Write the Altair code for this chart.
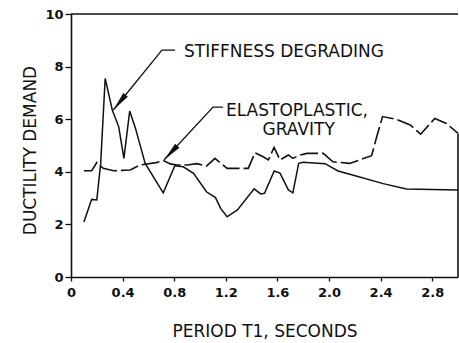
import altair as alt
import pandas as pd

# Stiffness degrading (solid)
sd_x = [0.10, 0.16, 0.20, 0.23, 0.265, 0.32, 0.37, 0.41, 0.455, 0.50, 0.575, 0.715, 0.805, 0.87,
        0.95, 1.05, 1.12, 1.16, 1.21, 1.29, 1.42, 1.47, 1.50, 1.575, 1.62, 1.685, 1.72, 1.765, 1.80,
        1.97, 2.07, 2.21, 2.42, 2.60, 3.0]
sd_y = [2.09, 2.95, 2.93, 4.32, 7.55, 6.35, 5.71, 4.51, 6.31, 5.65, 4.32, 3.20, 4.23, 4.19,
        3.94, 3.24, 3.02, 2.61, 2.29, 2.55, 3.35, 3.16, 3.18, 4.03, 3.95, 3.31, 3.20, 4.32, 4.36,
        4.31, 4.03, 3.84, 3.55, 3.35, 3.31]

# Elastoplastic, gravity (dashed)
ep_x = [0.10, 0.16, 0.20, 0.25, 0.33, 0.46, 0.535, 0.66, 0.72, 0.77, 0.82, 0.90, 0.975, 1.05,
        1.116, 1.21, 1.374, 1.426, 1.49, 1.53, 1.574, 1.62, 1.685, 1.72, 1.775, 1.83, 1.956, 2.03,
        2.16, 2.33, 2.37, 2.415, 2.52, 2.63, 2.71, 2.82, 2.91, 3.0]
ep_y = [4.04, 4.04, 4.35, 4.13, 4.04, 4.07, 4.26, 4.35, 4.42, 4.30, 4.26, 4.26, 4.31, 4.22,
        4.51, 4.13, 4.13, 4.72, 4.57, 4.45, 4.93, 4.45, 4.64, 4.51, 4.64, 4.70, 4.70, 4.38,
        4.32, 4.61, 5.33, 6.10, 6.00, 5.78, 5.43, 6.03, 5.84, 5.46]

# Annotations (data units)
labels = ["STIFFNESS DEGRADING", "ELASTOPLASTIC,", "GRAVITY"]
label_x = [1.651, 1.752, 1.765]
label_y = [8.365, 6.12, 5.40]

arrow_id = ["a1", "a1", "a1", "a2", "a2", "a2"]
arrow_x = [0.806, 0.705, 0.328, 1.178, 1.101, 0.721]
arrow_y = [8.63, 8.63, 6.35, 6.46, 6.46, 4.45]
arrow_ord = [0, 1, 2, 0, 1, 2]
head_x = [0.328, 0.721]
head_y = [6.35, 4.45]
head_angle = [219, 223]

x_ticks = [round(i * 0.2, 1) for i in range(16)]
y_ticks = list(range(11))

FONT = "DejaVu Sans"
INK = "#111111"

sd = pd.DataFrame({"x": sd_x, "y": sd_y})
ep = pd.DataFrame({"x": ep_x, "y": ep_y})
lab = pd.DataFrame({"x": label_x, "y": label_y, "t": labels})
arr = pd.DataFrame({"x": arrow_x, "y": arrow_y, "id": arrow_id, "o": arrow_ord})
heads = pd.DataFrame({"x": head_x, "y": head_y, "a": head_angle})
frame_top = pd.DataFrame({"x": [0.0], "x2": [3.0], "y": [10.0]})
frame_right = pd.DataFrame({"x": [3.0], "y": [0.0], "y2": [5.45]})

xs = alt.Scale(domain=[0, 3], nice=False, zero=False)
ys = alt.Scale(domain=[0, 10], nice=False)

xaxis = alt.Axis(
    values=x_ticks,
    labelExpr="round(datum.value*10) % 4 == 0 ? (datum.value == 0 ? '0' : format(datum.value, '.1f')) : ''",
    title="PERIOD T1, SECONDS",
    grid=False, domainColor=INK, domainWidth=1.6, tickColor=INK, tickWidth=1.3, tickSize=4,
    labelFont=FONT, labelFontSize=13, labelFontWeight="bold", labelColor=INK, labelPadding=5,
    labelFlush=False, labelOverlap=False,
    titleFont=FONT, titleFontSize=17, titleFontWeight="normal", titleColor=INK,
    titleBaseline="alphabetic", titleY=59,
)
yaxis = alt.Axis(
    values=y_ticks,
    labelExpr="datum.value % 2 == 0 ? datum.label : ''",
    title="DUCTILITY DEMAND",
    grid=False, domainColor=INK, domainWidth=1.6, tickColor=INK, tickWidth=1.3, tickSize=6,
    labelFont=FONT, labelFontSize=13, labelFontWeight="bold", labelColor=INK, labelPadding=2,
    labelFlush=False, labelOverlap=False,
    titleFont=FONT, titleFontSize=17, titleFontWeight="normal", titleColor=INK,
    titleAngle=270, titleAlign="center", titleBaseline="alphabetic", titleX=-36, titleY=136,
)

line_sd = alt.Chart(sd).mark_line(color=INK, strokeWidth=1.5).encode(
    x=alt.X("x:Q", scale=xs, axis=xaxis),
    y=alt.Y("y:Q", scale=ys, axis=yaxis),
)
line_ep = alt.Chart(ep).mark_line(color=INK, strokeWidth=1.6, strokeDash=[18, 4]).encode(
    x=alt.X("x:Q", scale=xs), y=alt.Y("y:Q", scale=ys)
)
top = alt.Chart(frame_top).mark_rule(color=INK, strokeWidth=1.6).encode(
    x=alt.X("x:Q", scale=xs), x2="x2:Q", y=alt.Y("y:Q", scale=ys)
)
right = alt.Chart(frame_right).mark_rule(color=INK, strokeWidth=1.6).encode(
    x=alt.X("x:Q", scale=xs), y=alt.Y("y:Q", scale=ys), y2="y2:Q"
)
leaders = alt.Chart(arr).mark_line(color=INK, strokeWidth=1.3).encode(
    x=alt.X("x:Q", scale=xs), y=alt.Y("y:Q", scale=ys), detail="id:N", order="o:Q"
)
arrowheads = alt.Chart(heads).mark_point(
    shape="M0,0L0.3,2L-0.3,2Z", filled=True, color=INK, opacity=1, size=380
).encode(
    x=alt.X("x:Q", scale=xs), y=alt.Y("y:Q", scale=ys), angle=alt.Angle("a:Q", scale=None)
)
texts = alt.Chart(lab).mark_text(
    font=FONT, fontSize=17, color=INK, align="center", baseline="alphabetic"
).encode(
    x=alt.X("x:Q", scale=xs), y=alt.Y("y:Q", scale=ys), text="t:N"
)

chart = alt.layer(line_sd, line_ep, top, right, leaders, arrowheads, texts).properties(
    width=387, height=263,
    autosize=alt.AutoSizeParams(type="none"),
    padding={"left": 71, "top": 14, "right": 1, "bottom": 66},
    background="white",
).configure_view(stroke=None)

chart.save("out.html", embed_options={"renderer": "svg", "actions": False})
